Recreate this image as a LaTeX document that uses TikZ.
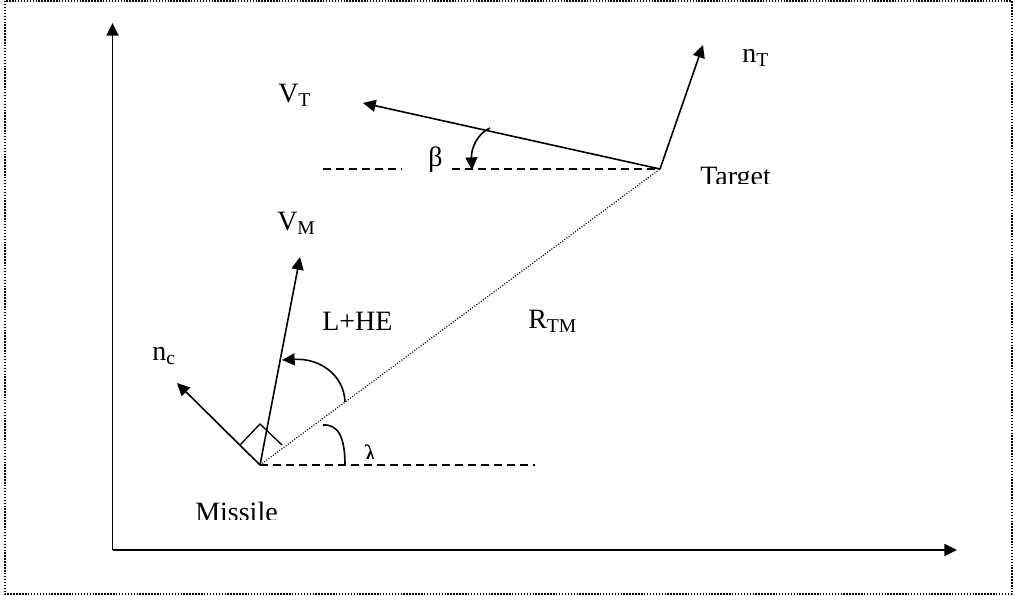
\documentclass[tikz,border=0pt]{standalone}
\usepackage{fontspec}
\setmainfont{Liberation Serif}
\usetikzlibrary{arrows.meta}

\begin{document}
\begin{tikzpicture}[x=0.75pt,y=-0.75pt,
  vec/.style={line width=1.2pt,-{Triangle[length=9.5pt,width=9pt]}},
  guide/.style={line width=0.9pt,dash pattern=on 6pt off 3.75pt},
  sight/.style={line width=0.9pt,dash pattern=on 0.75pt off 1.25pt},
  lbl/.style={anchor=base west,inner sep=0pt,font=\fontsize{21}{25}\selectfont}]
\useasboundingbox (0,0) rectangle (1015,596);
\draw[line width=1pt,dash pattern=on 1.1pt off 1.1pt] (5,1) rectangle (1012,594);
% axes
\coordinate (origin) at (112.5,550);
\coordinate (ytip) at (112.5,23);
\coordinate (xtip) at (957,550);
\draw[vec] (origin) -- (ytip);
\draw[vec] (origin) -- (xtip);
% missile, target and line of sight
\coordinate (missile) at (260,465);
\coordinate (target) at (660,169);
\coordinate (mref) at (535,465);
\coordinate (tref) at (323,169);
\coordinate (tgap) at (402,169);
\coordinate (tgapend) at (452,169);
\draw[sight] (missile) -- (target);
\draw[guide] (missile) -- (mref);
\draw[guide] (tref) -- (tgap);
\draw[guide] (tgapend) -- (target);
% vectors
\coordinate (vttip) at (363,103);
\coordinate (nttip) at (703,45);
\coordinate (vmtip) at (300,257);
\coordinate (nctip) at (177,383);
\draw[vec] (target) -- (vttip);
\draw[vec] (target) -- (nttip);
\draw[vec] (missile) -- (vmtip);
\draw[vec] (missile) -- (nctip);
% right angle
\draw[line width=1pt] (240,445) -- (260,424) -- (282,445);
% angle arcs
\draw[line width=1.2pt] (323,425) .. controls (338,424) and (345,437) .. (345,465);
\draw[vec] (345,402) .. controls (344,375) and (320,358) .. (282,360);
\draw[vec] (490,128) .. controls (478,133) and (471,148) .. (472,170);
% labels
\node[lbl] (ntlabel) at (742,62) {n\textsubscript{T}};
\node[lbl] (vtlabel) at (278,102) {V\textsubscript{T}};
\node[lbl] (betalabel) at (428,166) {β};
\node[lbl] (vmlabel) at (277,230) {V\textsubscript{M}};
\node[lbl] (nclabel) at (152,360) {n\textsubscript{c}};
\begin{scope}
\clip (690,150) rectangle (790,183);
\node[lbl] (targetlabel) at (700,185.5) {Target};
\end{scope}
\begin{scope}
\clip (310,295) rectangle (400,329);
\node[lbl] (lhelabel) at (322,330.5) {L+HE};
\end{scope}
\begin{scope}
\clip (515,295) rectangle (590,331);
\node[lbl] (rtmlabel) at (528,328.5) {R\textsubscript{TM}};
\end{scope}
\begin{scope}
\clip (355,435) rectangle (390,458);
\node[lbl] (lambdalabel) at (363,464) {λ};
\end{scope}
\begin{scope}
\clip (185,490) rectangle (290,519);
\node[lbl] (missilelabel) at (195,521.5) {Missile};
\end{scope}
\end{tikzpicture}
\end{document}
